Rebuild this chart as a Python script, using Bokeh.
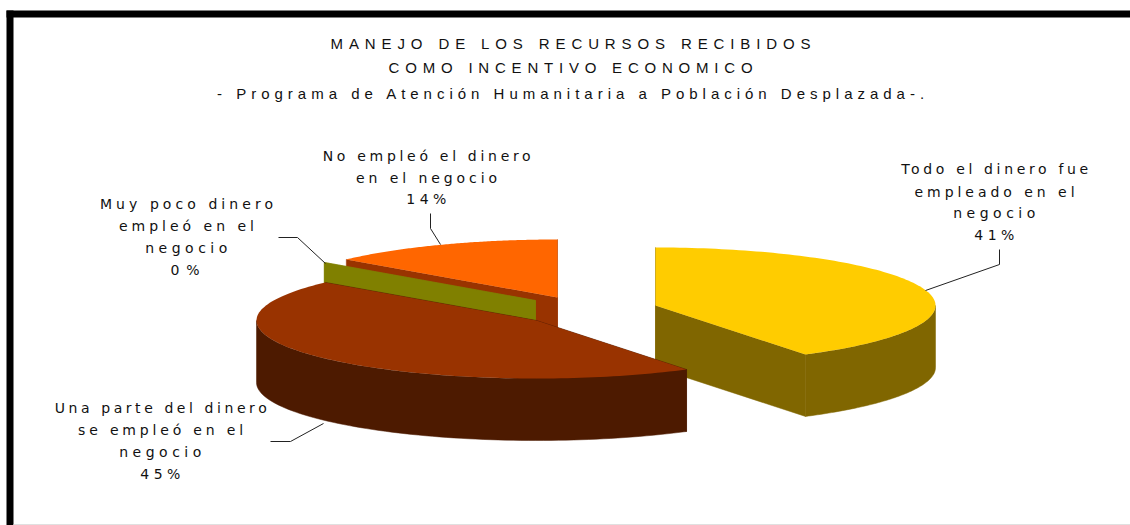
import json
import numpy as np
from bokeh.embed import file_html
from bokeh.resources import INLINE
from bokeh.models import Range1d
from bokeh.plotting import figure
from bokeh.core.properties import value

# ---- data ----
categories = ["Todo el dinero fue empleado en el negocio",
              "Una parte del dinero se empleó en el negocio",
              "Muy poco dinero empleó en el negocio",
              "No empleó el dinero en el negocio"]
shares = [41.0, 45.4, 0.0, 13.6]
title_lines = ["MANEJO DE LOS RECURSOS RECIBIDOS",
               "COMO INCENTIVO ECONOMICO",
               "- Programa de Atención Humanitaria a Población Desplazada-."]
label_lines = [["Todo el dinero fue", "empleado en el", "negocio"],
               ["Una parte del dinero", "se empleó en el", "negocio"],
               ["Muy poco dinero", "empleó en el", "negocio"],
               ["No empleó el dinero", "en el negocio"]]

# ---- style / layout (screen pixels) ----
W, H = 1130, 525
RX, RY, DEPTH = 280, 58, 62
centers = [(655, 305), (536, 320), (535, 300), (557, 297)]
top_colors = ["#FFCC00", "#993300", "#808000", "#FF6600"]
side_colors = ["#806600", "#4D1A00", "#808000", "#993300"]
draw_order = [0, 3, 2, 1]
label_x = [996, 162, 188, 428]
label_y = [[168, 191, 212, 234], [407, 429, 451, 473], [203, 225, 247, 269], [155, 177, 198]]
title_y = [43, 67, 93]
leaders = [([925, 999, 999], [290, 264, 249]),
           ([278, 297, 325], [237, 237, 263]),
           ([270, 290, 323], [441, 441, 423]),
           ([440, 430, 430], [244, 228, 213])]
fit_width = {"MANEJO DE LOS RECURSOS RECIBIDOS": 480, "COMO INCENTIVO ECONOMICO": 364,
             "- Programa de Atención Humanitaria a Población Desplazada-.": 707,
             "Todo el dinero fue": 188, "empleado en el": 160, "negocio": 82, "41%": 40,
             "Una parte del dinero": 212, "se empleó en el": 165, "45%": 40,
             "Muy poco dinero": 173, "empleó en el": 135, "0%": 29,
             "No empleó el dinero": 208, "en el negocio": 141, "14%": 40}

p = figure(width=W, height=H, output_backend="svg", toolbar_location=None,
           x_range=Range1d(0, W), y_range=Range1d(H, 0),
           min_border=0, outline_line_color=None, background_fill_color="white")
p.axis.visible = False
p.grid.visible = False

# frame
p.quad(left=[6, 6], right=[W, 13], top=[10, 10], bottom=[17, H], fill_color="black", line_color=None)
p.line([13, W], [524, 524], line_color="#E0E0E0", line_width=1)


def ell(theta, c, dy=0.0):
    return c[0] + RX * np.sin(theta), c[1] - RY * np.cos(theta) + dy


edges = np.radians(np.concatenate([[0], np.cumsum(shares)]) * 3.6)
for i in draw_order:
    a, b, c = edges[i], edges[i + 1], centers[i]
    sc = side_colors[i]
    # radial faces
    for th in (a, b):
        ex, ey = ell(th, c)
        p.patch([c[0], ex, ex, c[0]], [c[1], ey, ey + DEPTH, c[1] + DEPTH],
                fill_color=sc, line_color=sc, line_width=0.5)
    # rim, front half only
    lo, hi = max(a, np.pi / 2), min(b, 3 * np.pi / 2)
    if hi > lo:
        t = np.linspace(lo, hi, 80)
        x, y = ell(t, c)
        p.patch(np.r_[x, x[::-1]], np.r_[y, (y + DEPTH)[::-1]], fill_color=sc, line_color=sc, line_width=0.5)
    # top
    if b > a:
        t = np.linspace(a, b, 120)
        x, y = ell(t, c)
        p.patch(np.r_[c[0], x], np.r_[c[1], y], fill_color=top_colors[i], line_color=None)

for lx, ly in leaders:
    p.line(lx, ly, line_color="#222222", line_width=1)

tx, ty, tt = [], [], []
for s, y in zip(title_lines, title_y):
    tx.append(573); ty.append(y); tt.append(s)
p.text(tx, ty, text=tt, text_font=value("Liberation Sans"), text_font_size="15px",
       text_color="#111111", text_align="center", text_baseline="middle")

lx_, ly_, lt_ = [], [], []
for i, lines in enumerate(label_lines):
    full = lines + [f"{round(shares[i])}%"]
    for s, y in zip(full, label_y[i]):
        lx_.append(label_x[i]); ly_.append(y); lt_.append(s)
p.text(lx_, ly_, text=lt_, text_font=value("DejaVu Sans"), text_font_size="14px",
       text_color="#111111", text_align="center", text_baseline="middle")

html = file_html(p, INLINE)
script = """
<script>
(function(){
 var fit = %s;
 function walk(root, out){
   root.querySelectorAll('*').forEach(function(e){
     if(e.tagName && e.tagName.toLowerCase()==='text') out.push(e);
     if(e.shadowRoot) walk(e.shadowRoot,out);
   });
   return out;
 }
 function run(){
   walk(document,[]).forEach(function(t){
     if(t.dataset.fit) return;
     var s=t.textContent, w=fit[s];
     if(!w) return;
     t.dataset.fit='1';
     var b=t.getBBox(), c=b.x+b.width/2;
     t.style.letterSpacing=((w-b.width)/(s.length-1))+'px';
     var n=t.getBBox(), d=c-(n.x+n.width/2);
     t.setAttribute('x', parseFloat(t.getAttribute('x')||0)+d);
   });
 }
 var k=0, id=setInterval(function(){run(); if(++k>60) clearInterval(id);},50);
})();
</script>
""" % json.dumps(fit_width, ensure_ascii=False)
html = html.replace("</body>", script + "</body>")
open("out.html", "w").write(html)
